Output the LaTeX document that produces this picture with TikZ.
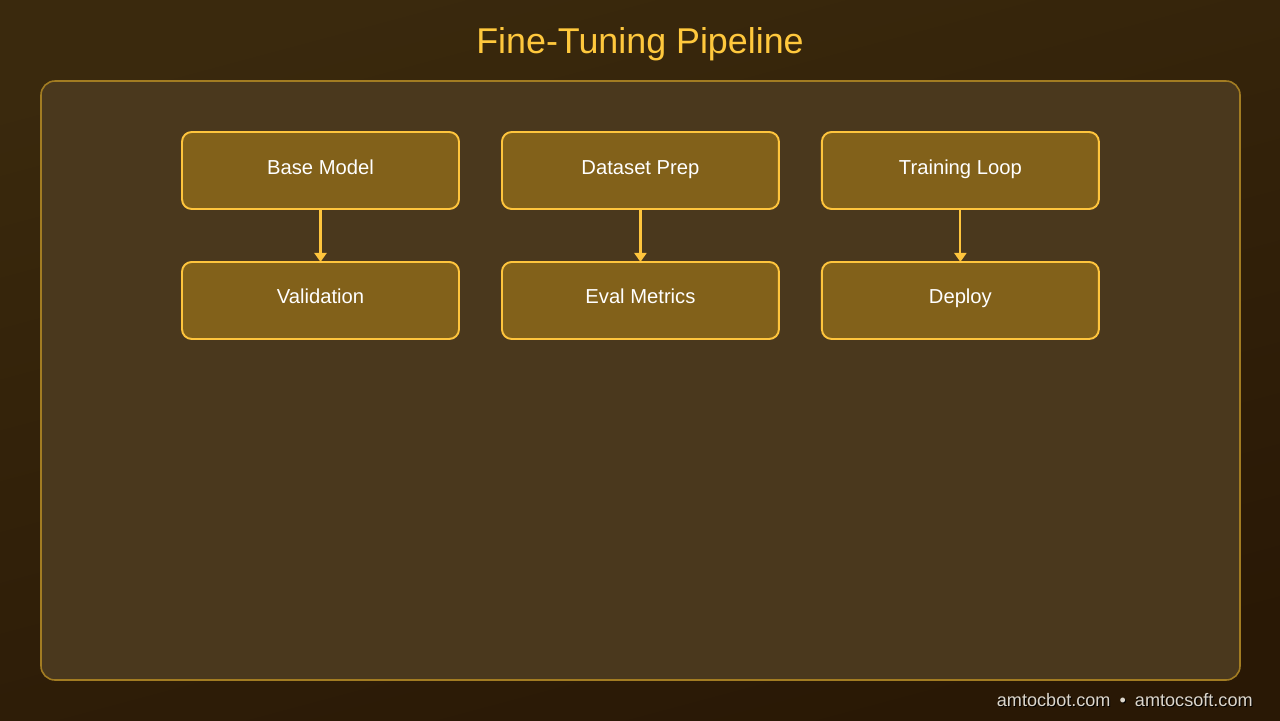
\documentclass[tikz,border=0pt]{standalone}
\usepackage{fontspec}
\setmainfont{Liberation Sans}
\usepackage{xcolor}
\usetikzlibrary{positioning,arrows.meta}
\definecolor{bgtop}{HTML}{3A290D}
\definecolor{bgbottom}{HTML}{291805}
\definecolor{panelfill}{HTML}{4A381D}
\definecolor{panelline}{HTML}{A27C22}
\definecolor{boxfill}{HTML}{82611A}
\definecolor{boxline}{HTML}{FFC53D}
\definecolor{titlecol}{HTML}{FFC83D}
\definecolor{footcol}{HTML}{DCD6CC}
\tikzset{
  stagebox/.style={rectangle, rounded corners=5.5pt, draw=boxline, fill=boxfill, line width=1.1pt, outer sep=0pt, minimum width=5.54cm, minimum height=1.54cm, text height=8pt, text depth=4pt, align=center, text=white, font=\fontsize{11.5}{14}\selectfont},
  arrow/.style={-{Triangle[width=0.24cm,length=0.18cm]}, line width=1.2pt, draw=boxline, fill=boxline},
  panel/.style={rounded corners=8pt, draw=panelline, fill=panelfill, line width=0.9pt},
  foottext/.style={anchor=east, inner sep=0pt, font=\fontsize{10.3}{12}\selectfont}
}
\begin{document}
\begin{tikzpicture}[x=0.02cm, y=-0.02cm, node distance=1.06cm and 0.86cm]
% background
\shade[top color=bgtop, bottom color=bgbottom, shading angle=15] (0,0) rectangle (1280,720);
\useasboundingbox (0,0) rectangle (1280,720);
\draw[panel] (41,81) rectangle (1240,680);
\node[anchor=base, text=titlecol, font=\fontsize{20.4}{24}\selectfont] (title) at (640,53) {Fine-Tuning Pipeline};
% stages
\node[stagebox] (base) at (320.5,170.5) {Base Model};
\node[stagebox, right=of base] (data) {Dataset Prep};
\node[stagebox, right=of data] (train) {Training Loop};
\node[stagebox, below=of base] (valid) {Validation};
\node[stagebox, below=of data] (eval) {Eval Metrics};
\node[stagebox, below=of train] (deploy) {Deploy};
\draw[arrow] (base) -- (valid);
\draw[arrow] (data) -- (eval);
\draw[arrow] (train) -- (deploy);
% footer
\node[foottext, text=black] (footshadow) at (1254,701) {amtocbot.com\enspace•\enspace amtocsoft.com};
\node[foottext, text=footcol] (footer) at (1253,700) {amtocbot.com\enspace•\enspace amtocsoft.com};
\end{tikzpicture}
\end{document}
